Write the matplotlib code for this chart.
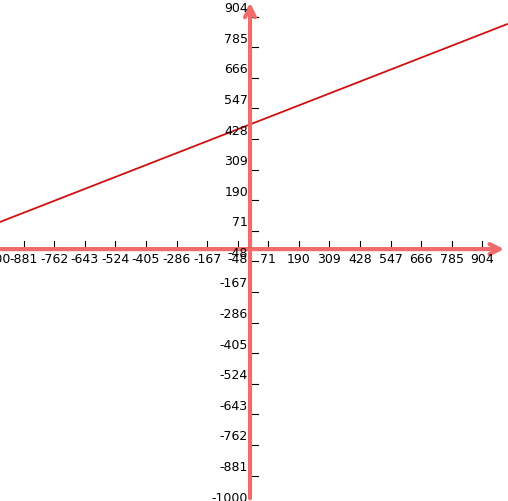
import numpy as np
import matplotlib; matplotlib.use("Agg")
import matplotlib.pyplot as plt

ticks = [-1000, -881, -762, -643, -524, -405, -286, -167, -48, 71, 190, 309, 428, 547, 666, 785, 904]
line_x = [-1000, 1000]
line_y = [95, 875]

fig = plt.figure(figsize=(5.08, 5.02), dpi=100)
ax = fig.add_axes([0, 0, 1, 1])
ax.set_xlim(-973, 1004)
ax.set_ylim(-980, 973)
ax.axis("off")

ac = "#f26b6b"
ax.annotate("", xy=(1000, 0), xytext=(-980, 0),
            arrowprops=dict(arrowstyle="->", color=ac, lw=3, mutation_scale=18))
ax.annotate("", xy=(0, 970), xytext=(0, -980),
            arrowprops=dict(arrowstyle="->", color=ac, lw=3, mutation_scale=18))

for t in ticks:
    ax.plot([t, t], [0, 30], color="k", lw=0.8)
    ax.text(t, -12, str(t), ha="center", va="top", fontsize=9)
    ax.plot([0, 30], [t, t], color="k", lw=0.8)
    ax.text(-8, t + 10, str(t), ha="right", va="bottom", fontsize=9)

ax.plot(line_x, line_y, color="#d01010", lw=1.3)
fig.savefig("out.png", dpi=100)
